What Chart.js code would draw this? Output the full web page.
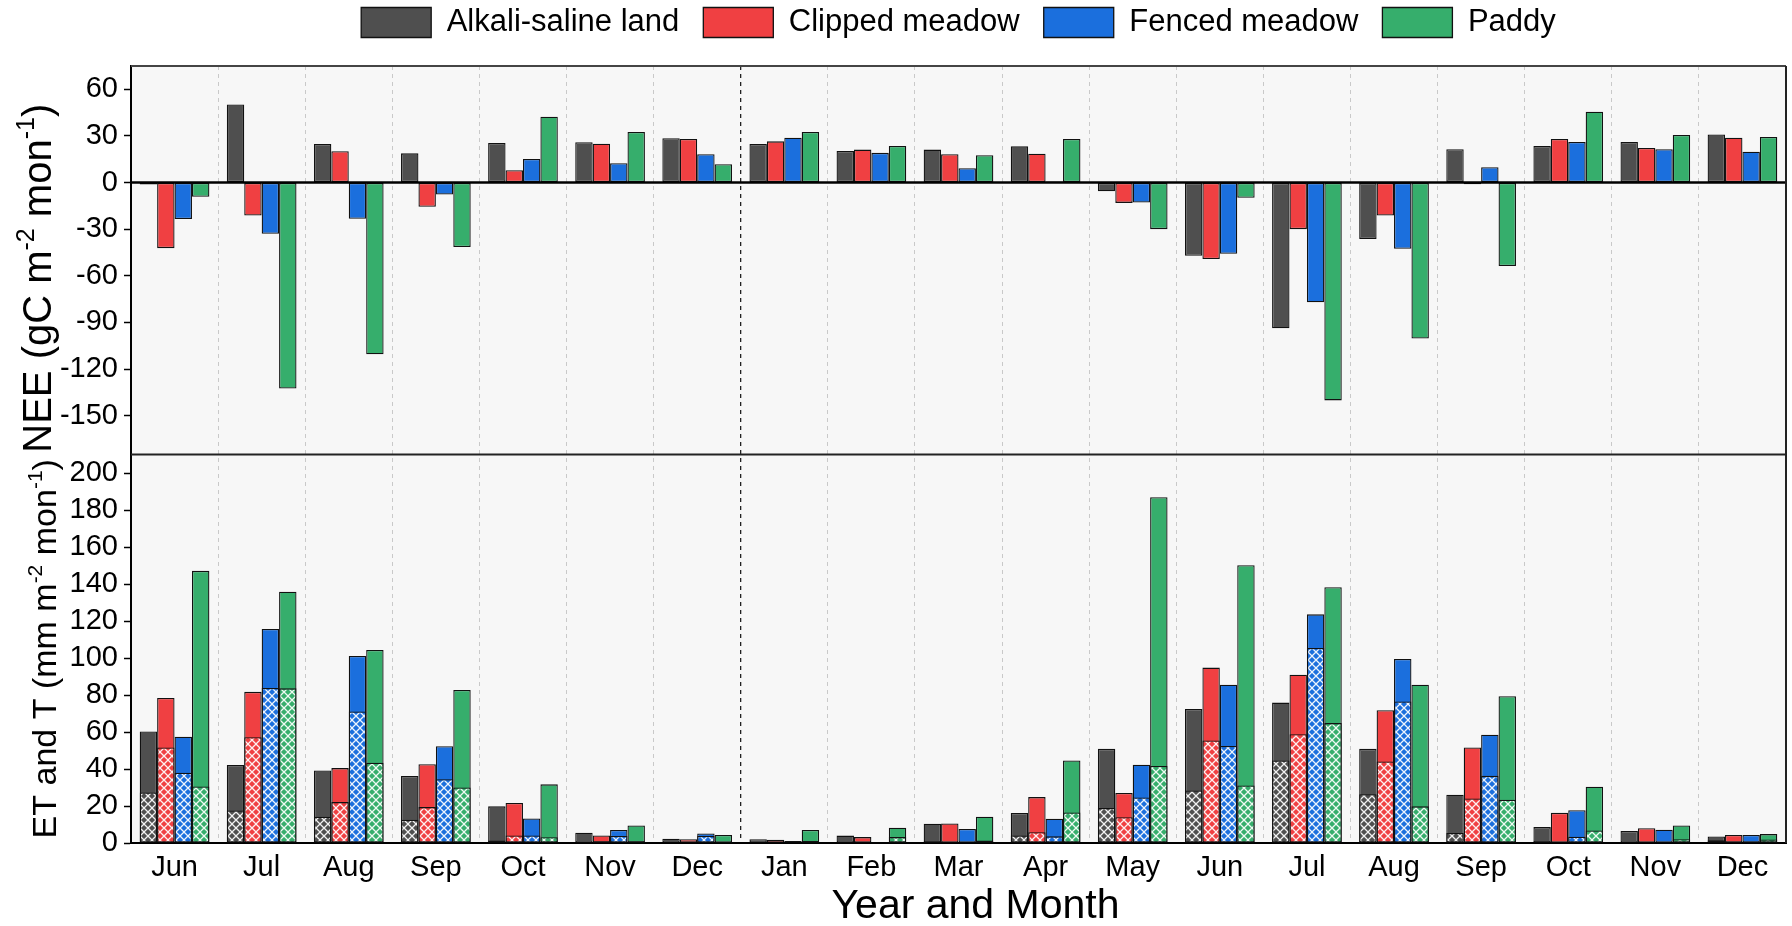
<!DOCTYPE html>
<html>
<head>
<meta charset="utf-8">
<script src="https://cdn.jsdelivr.net/npm/chart.js@4.4.1/dist/chart.umd.min.js"></script>
<style>
  html, body { margin: 0; padding: 0; background: #fff; }
  #wrap { width: 1792px; height: 926px; }
</style>
</head>
<body>
<div id="wrap"><canvas id="chart" width="1792" height="926"></canvas></div>
<script>
const FONT = "'Liberation Sans', Arial, sans-serif";

const months = ['Jun', 'Jul', 'Aug', 'Sep', 'Oct', 'Nov', 'Dec', 'Jan', 'Feb', 'Mar', 'Apr', 'May',
                'Jun', 'Jul', 'Aug', 'Sep', 'Oct', 'Nov', 'Dec'];
const seriesNames = ['Alkali-saline land', 'Clipped meadow', 'Fenced meadow', 'Paddy'];
const seriesColors = ['#4f4f4f', '#f04042', '#1b6fdd', '#36ae6c'];

// NEE (gC m-2 mon-1)
const neeAlkali  = [-1.3, 50.3, 24.8, 18.8, 25.5, 25.9, 28.5, 24.8, 20.3, 21.2, 23.3, -5.6, -47.1, -93.8, -36.4, 21.4, 23.5, 26.1, 31.0];
const neeClipped = [-42.2, -21.2, 20.1, -15.6, 7.9, 25.0, 28.0, 26.5, 21.2, 18.2, 18.6, -13.1, -49.2, -30.0, -21.2, -1.1, 28.0, 22.3, 28.9];
const neeFenced  = [-23.5, -33.0, -23.3, -7.7, 15.2, 12.4, 18.2, 28.9, 19.1, 9.2, 0.6, -12.8, -45.8, -77.1, -42.6, 9.8, 26.1, 21.4, 19.9];
const neePaddy   = [-9.2, -132.5, -110.5, -41.5, 42.4, 32.5, 11.8, 32.5, 23.5, 17.6, 28.0, -30.0, -9.8, -140.2, -100.4, -53.7, 45.6, 30.6, 29.3];

// ET (mm m-2 mon-1)
const etAlkali  = [60.3, 42.1, 39.2, 36.2, 19.8, 5.6, 2.3, 2.0, 4.0, 10.4, 16.2, 50.9, 72.5, 75.9, 50.9, 26.1, 8.6, 6.5, 3.5];
const etClipped = [78.4, 81.7, 40.5, 42.6, 21.6, 4.1, 2.0, 1.8, 3.2, 10.6, 24.8, 27.0, 94.8, 91.0, 71.8, 51.6, 16.3, 8.0, 4.3];
const etFenced  = [57.4, 115.7, 101.1, 52.3, 13.3, 7.0, 5.2, 1.1, 0.4, 7.6, 13.1, 42.3, 85.6, 123.6, 99.5, 58.5, 17.7, 7.2, 4.3];
const etPaddy   = [147.1, 135.8, 104.3, 82.7, 31.7, 9.5, 4.3, 7.0, 8.3, 14.2, 44.6, 186.9, 150.2, 138.3, 85.6, 79.3, 30.4, 9.5, 4.8];

// T (mm m-2 mon-1), hatched part
const tAlkali  = [27.3, 17.6, 14.2, 12.6, 1.4, 0.4, 0.2, 0.2, 0.2, 0.9, 4.1, 18.9, 28.4, 44.6, 26.4, 5.4, 1.0, 0.2, 1.5];
const tClipped = [51.6, 57.2, 22.1, 19.4, 4.1, 0.9, 0.4, 0.3, 0.2, 0.5, 5.8, 13.9, 55.4, 58.8, 44.1, 24.1, 0.2, 0.3, 0.8];
const tFenced  = [38.0, 83.8, 71.1, 34.5, 4.1, 3.8, 3.8, 0.3, 0.1, 0.2, 3.6, 24.6, 52.5, 105.4, 76.5, 36.3, 3.4, 0.3, 0.8];
const tPaddy   = [30.6, 83.6, 43.4, 30.0, 3.1, 0.9, 0.5, 1.1, 3.2, 1.4, 16.5, 41.6, 31.1, 64.8, 19.8, 23.4, 6.8, 2.0, 1.9];

const neeTicks = [-150, -120, -90, -60, -30, 0, 30, 60];
const etTicks = [0, 20, 40, 60, 80, 100, 120, 140, 160, 180, 200];

const neeSets = [neeAlkali, neeClipped, neeFenced, neePaddy];
const etSets = [etAlkali, etClipped, etFenced, etPaddy];
const tSets = [tAlkali, tClipped, tFenced, tPaddy];

function hatch(color) {
    const c = document.createElement('canvas');
    c.width = 8; c.height = 8;
    const g = c.getContext('2d');
    g.fillStyle = color;
    g.fillRect(0, 0, 8, 8);
    g.strokeStyle = 'rgba(255,255,255,0.92)';
    g.lineWidth = 1.3;
    g.beginPath();
    g.moveTo(-1, -1); g.lineTo(9, 9);
    g.moveTo(9, -1); g.lineTo(-1, 9);
    g.stroke();
    return g.createPattern(c, 'repeat');
}

const barStyle = { borderColor: '#111', borderWidth: 1.3, borderSkipped: false, categoryPercentage: 0.8, barPercentage: 1.0 };

const datasets = [];
seriesNames.forEach((name, i) => {
    datasets.push({ label: name, data: neeSets[i], yAxisID: 'yNEE', stack: 's' + i, backgroundColor: seriesColors[i], ...barStyle });
});
seriesNames.forEach((name, i) => {
    datasets.push({ label: name + ' T', data: tSets[i], yAxisID: 'yET', stack: 's' + i, backgroundColor: hatch(seriesColors[i]), ...barStyle });
});
seriesNames.forEach((name, i) => {
    datasets.push({ label: name + ' ET', data: etSets[i], yAxisID: 'yET', stack: 's' + i, backgroundColor: seriesColors[i], ...barStyle });
});

function strokeLine(ctx, x1, y1, x2, y2, color, w) {
    ctx.beginPath();
    ctx.strokeStyle = color;
    ctx.lineWidth = w;
    ctx.moveTo(x1, y1);
    ctx.lineTo(x2, y2);
    ctx.stroke();
}

// plot background + frame lines
const framePlugin = {
    id: 'frame',
    beforeDraw(chart) {
        const { ctx, chartArea: a } = chart;
        ctx.save();
        ctx.fillStyle = '#f7f7f7';
        ctx.fillRect(a.left, a.top, a.right - a.left, a.bottom - a.top);
        ctx.restore();
    },
    afterDatasetsDraw(chart) {
        const { ctx, chartArea: a, scales } = chart;
        const y0 = scales.yNEE.getPixelForValue(0);
        const sep = scales.yNEE.bottom;
        ctx.save();
        strokeLine(ctx, a.left, y0, a.right, y0, '#000', 2.5);
        strokeLine(ctx, a.left, sep, a.right, sep, '#222', 2);
        strokeLine(ctx, a.left, a.top, a.right, a.top, '#444', 2);
        strokeLine(ctx, a.right, a.top, a.right, a.bottom, '#222', 2);
        ctx.restore();
    }
};

// rotated y titles with real superscripts
function drawRotatedTitle(ctx, scale, parts, size, x, dy) {
    const cy = (scale.top + scale.bottom) / 2 + dy;
    const big = size + 'px ' + FONT;
    const small = Math.round(size * 0.62) + 'px ' + FONT;
    ctx.save();
    ctx.translate(x, cy);
    ctx.rotate(-Math.PI / 2);
    ctx.fillStyle = '#000';
    ctx.textBaseline = 'alphabetic';
    ctx.textAlign = 'left';
    let total = 0;
    parts.forEach(p => { ctx.font = p[1] ? small : big; total += ctx.measureText(p[0]).width; });
    let px = -total / 2;
    parts.forEach(p => {
        ctx.font = p[1] ? small : big;
        ctx.fillText(p[0], px, p[1] ? -size * 0.42 : 0);
        px += ctx.measureText(p[0]).width;
    });
    ctx.restore();
}

const titlePlugin = {
    id: 'axisTitles',
    afterDraw(chart) {
        const ctx = chart.ctx;
        const a = chart.chartArea;
        drawRotatedTitle(ctx, chart.scales.yNEE,
            [['NEE (gC m', 0], ['-2', 1], [' mon', 0], ['-1', 1], [')', 0]], 40, 51, 18);
        drawRotatedTitle(ctx, chart.scales.yET,
            [['ET and T (mm m', 0], ['-2', 1], [' mon', 0], ['-1', 1], [')', 0]], 34, 56, 0);
        // x title, sits a little right of the plot centre as in the figure
        ctx.save();
        ctx.font = '41px ' + FONT;
        ctx.fillStyle = '#000';
        ctx.textAlign = 'center';
        ctx.textBaseline = 'middle';
        ctx.fillText('Year and Month', (a.left + a.right) / 2 + 17, 907);
        ctx.restore();
    }
};

const yCommon = {
    position: 'left',
    stack: 'panels',
    stackWeight: 1,
    stacked: false,
    afterFit: s => { s.width = 131; },
    grid: { drawOnChartArea: false, drawTicks: true, tickLength: 7, tickColor: '#000', tickWidth: 1.5 },
    border: { display: true, color: '#000', width: 2 },
    ticks: { color: '#000', padding: 6, autoSkip: false, font: { family: FONT, size: 29 } }
};

new Chart(document.getElementById('chart'), {
    type: 'bar',
    data: { labels: months, datasets: datasets },
    plugins: [framePlugin, titlePlugin],
    options: {
        responsive: false,
        animation: false,
        devicePixelRatio: 1,
        events: [],
        layout: { padding: { top: -17, right: 6, left: 0, bottom: 0 } },
        plugins: {
            tooltip: { enabled: false },
            legend: {
                position: 'top',
                fullSize: false,
                labels: {
                    boxWidth: 70,
                    boxHeight: 30,
                    padding: 24,
                    color: '#000',
                    font: { family: FONT, size: 31 },
                    filter: item => item.datasetIndex < 4
                }
            },
            subtitle: { display: true, text: '', weight: 100, fullSize: false, padding: 0, font: { size: 18, lineHeight: 1 } }
        },
        scales: {
            x: {
                afterFit: s => { s.height = 83; },
                grid: {
                    offset: true,
                    drawTicks: false,
                    color: c => c.index === 7 ? '#222' : '#c9c9c9',
                    lineWidth: c => c.index === 7 ? 1.3 : 1
                },
                border: { display: true, color: '#000', width: 2, dash: [4, 4] },
                ticks: { color: '#000', padding: 8, autoSkip: false, maxRotation: 0, font: { family: FONT, size: 29 } },
                title: { display: false }
            },
            yET: {
                ...yCommon,
                min: 0,
                max: 210,
                afterBuildTicks: s => { s.ticks = etTicks.map(v => ({ value: v })); }
            },
            yNEE: {
                ...yCommon,
                min: -175,
                max: 75,
                afterBuildTicks: s => { s.ticks = neeTicks.map(v => ({ value: v })); }
            }
        }
    }
});
</script>
</body>
</html>
